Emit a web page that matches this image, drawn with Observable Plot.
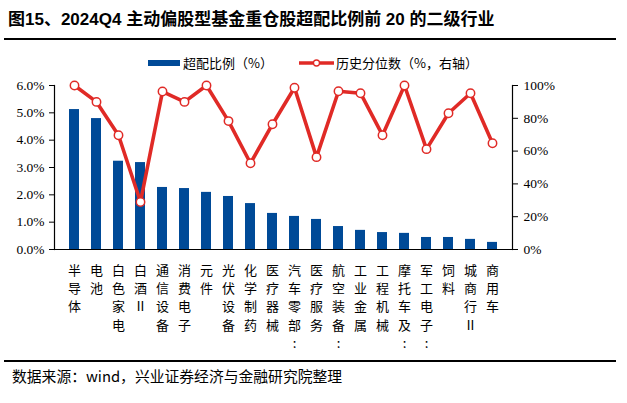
<!DOCTYPE html>
<html><head><meta charset="utf-8">
<script src="https://cdn.jsdelivr.net/npm/d3@7"></script>
<script src="https://cdn.jsdelivr.net/npm/@observablehq/plot@0.6"></script>
<style>
body{margin:0;background:#fff;}
#wrap{position:relative;width:627px;height:403px;overflow:hidden;font-family:"Noto Sans CJK SC","Noto Sans",sans-serif;}
#title{position:absolute;left:8px;top:9px;font-size:17px;font-weight:bold;line-height:22px;color:#000;font-family:"Liberation Sans","Noto Sans CJK SC",sans-serif;white-space:nowrap;}
.hr{position:absolute;left:4px;width:612px;height:1.5px;background:#000;}
#legend{position:absolute;top:54px;left:0;width:627px;height:20px;font-size:13px;color:#000;}
#foot{position:absolute;left:12px;top:365px;font-size:14.8px;color:#000;white-space:nowrap;}
#chart{position:absolute;left:0;top:70px;}
</style></head>
<body><div id="wrap">
<div id="title">图15、2024Q4 主动偏股型基金重仓股超配比例前 20 的二级行业</div>
<div class="hr" style="top:38px"></div>
<div id="legend"></div>
<div id="chart"></div>
<div class="hr" style="top:360px"></div>
<div id="foot">数据来源：wind，兴业证券经济与金融研究院整理</div>
</div>
<script>
const categories = ["半导体","电池","白色家电","白酒Ⅱ","通信设备","消费电子","元件","光伏设备","化学制药","医疗器械","汽车零部件","医疗服务","航空装备Ⅱ","工业金属","工程机械","摩托车及其他","军工电子Ⅱ","饲料","城商行Ⅱ","商用车"];
const tickLabels = ["半导体","电池","白色家电","白酒Ⅱ","通信设备","消费电子","元件","光伏设备","化学制药","医疗器械","汽车零部:","医疗服务","航空装备:","工业金属","工程机械","摩托车及:","军工电子:","饲料","城商行Ⅱ","商用车"];
const overweight = [5.12,4.79,3.23,3.18,2.27,2.23,2.09,1.94,1.68,1.32,1.21,1.10,0.84,0.70,0.62,0.59,0.44,0.44,0.37,0.26];
const percentile = [100,90,69.7,29,96.3,90,100,78.3,52.6,76.4,98.6,56.3,96.5,95.3,69.7,100,61.2,83.1,95.3,64.8];
const leftTicks = [0,1,2,3,4,5,6];
const rightTicks = [0,20,40,60,80,100];
const seriesNames = ["超配比例（%）","历史分位数（%，右轴）"];

const BLUE = "#004a97", RED = "#e02a26";
const leftMax = 6, rightMax = 100;
const toLeft = v => v * leftMax / rightMax;

const data = categories.map((c,i)=>({cat:c, label:tickLabels[i], ow:overweight[i], pct:percentile[i]}));

const plot = Plot.plot({
  width: 627, height: 290,
  marginTop: 15, marginBottom: 111, marginLeft: 54, marginRight: 115,
  style: {fontFamily: "'Liberation Serif', serif", fontSize: "13px", color: "#000", background: "transparent"},
  x: {type: "band", domain: categories, paddingInner: 0.56, paddingOuter: 0.28, axis: null},
  y: {domain: [0, leftMax], axis: null},
  marks: [
    Plot.barY(data, {x: "cat", y: "ow", fill: BLUE}),
    Plot.axisY({anchor: "left", label: null, ticks: leftTicks, tickFormat: d => d.toFixed(1) + "%", tickSize: 5, tickPadding: 5, fontSize: 13.5, stroke: "#000"}),
    Plot.axisY({anchor: "right", label: null, ticks: rightTicks.map(toLeft), tickFormat: d => Math.round(d / leftMax * rightMax) + "%", tickSize: 5, tickPadding: 6, fontSize: 13.5, stroke: "#000"}),
    Plot.frame({anchor: "left", stroke: "#000", strokeWidth: 1.2}),
    Plot.frame({anchor: "right", stroke: "#000", strokeWidth: 1.2}),
    Plot.ruleY([0], {stroke: "#000", strokeWidth: 1.2}),
    Plot.line(data, {x: "cat", y: d => toLeft(d.pct), stroke: RED, strokeWidth: 3.6, strokeLinejoin: "miter"}),
    Plot.dot(data, {x: "cat", y: d => toLeft(d.pct), r: 4.2, fill: "#fff", stroke: RED, strokeWidth: 1.5}),
    Plot.text(data, {x: "cat", y: 0, text: d => Array.from(d.label).join("\n"), lineAnchor: "top", dy: 12, lineHeight: 1.41, fontSize: 13, fontFamily: "'Noto Sans CJK SC', sans-serif", fill: "#000"})
  ]
});
document.getElementById("chart").appendChild(plot);

// legend
const lg = document.getElementById("legend");
lg.innerHTML = `
<svg width="627" height="20" style="position:absolute;left:0;top:0">
  <rect x="148" y="6" width="32" height="6" fill="${BLUE}"/>
  <text x="183" y="14" font-size="13" font-family="Noto Sans CJK SC">${seriesNames[0]}</text>
  <line x1="299" y1="9" x2="334" y2="9" stroke="${RED}" stroke-width="3.6"/>
  <circle cx="316.5" cy="9" r="3" fill="#fff" stroke="${RED}" stroke-width="1.3"/>
  <text x="336" y="14" font-size="13" font-family="Noto Sans CJK SC">${seriesNames[1]}</text>
</svg>`;
</script>
</body></html>
